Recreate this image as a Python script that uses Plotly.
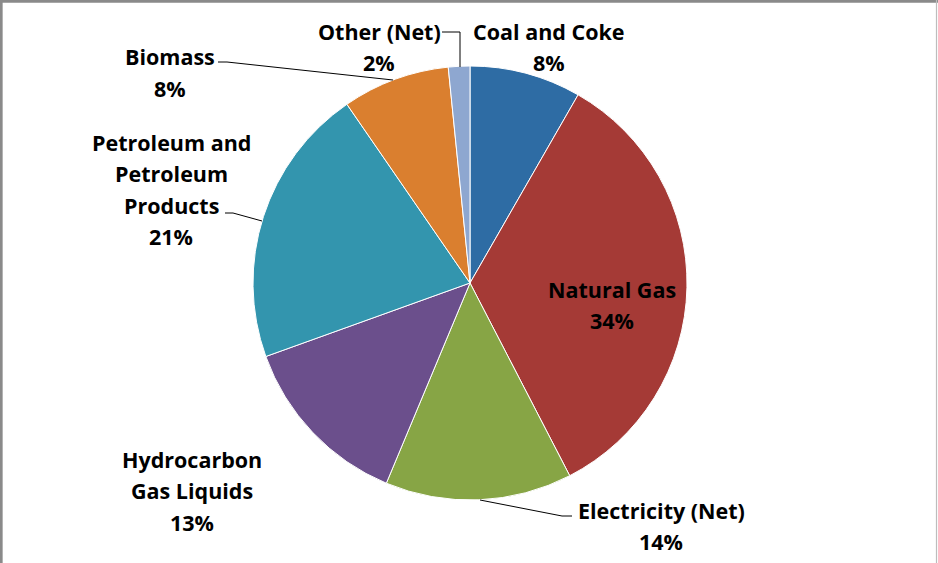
import plotly.graph_objects as go

W, H = 938, 563

# ---- data ----
labels = ["Coal and Coke", "Natural Gas", "Electricity (Net)", "Hydrocarbon Gas Liquids",
          "Petroleum and Petroleum Products", "Biomass", "Other (Net)"]
values = [8.3, 34.1, 13.9, 13.2, 20.9, 8.0, 1.6]
label_lines = [["Coal and Coke"], ["Natural Gas"], ["Electricity (Net)"],
               ["Hydrocarbon", "Gas Liquids"], ["Petroleum and", "Petroleum", "Products"],
               ["Biomass"], ["Other (Net)"]]
colors = ["#2E6CA4", "#A53A36", "#87A545", "#6B4F8C", "#3395AE", "#DA7F2F", "#8EA7D0"]

# ---- layout helpers (pixel positions of label block centers: first line) ----
label_pos = [(549, 31), (612, 289), (661, 510), (192, 459), (171, 142), (170, 57), (379, 31)]
line_gap = 31.5
leaders = [
    None, None,
    [(480, 500), (562, 516), (572, 516)],
    None,
    [(225, 213), (233, 213), (262, 221)],
    [(218, 62), (227, 62), (393, 80)],
    [(442, 32), (460, 32), (460, 67)],
]

def px(x):
    return x / W

def py(y):
    return 1 - y / H

fig = go.Figure(go.Pie(
    labels=labels, values=values, sort=False, direction="clockwise", rotation=0,
    marker=dict(colors=colors, line=dict(color="white", width=1)),
    textinfo="none", hoverinfo="label+percent", showlegend=False,
    domain=dict(x=[px(253), px(687)], y=[py(500), py(66)]),
))

total = sum(values)
annotations = []
for lines, v, (cx, cy) in zip(label_lines, values, label_pos):
    all_lines = lines + [f"{round(v / total * 100)}%"]
    for i, t in enumerate(all_lines):
        annotations.append(dict(
            x=px(cx), y=py(cy + i * line_gap), xref="paper", yref="paper",
            text=t, showarrow=False, xanchor="center", yanchor="middle",
            font=dict(family="Open Sans", size=21.5, color="#000000", weight="bold"),
        ))

shapes = []
for ld in leaders:
    if ld is None:
        continue
    path = "M " + " L ".join(f"{px(x)},{py(y)}" for x, y in ld)
    shapes.append(dict(type="path", path=path, xref="paper", yref="paper",
                       line=dict(color="#000000", width=1)))

# chart border
shapes += [
    dict(type="line", xref="paper", yref="paper", x0=0, x1=1, y0=py(1.3), y1=py(1.3),
         line=dict(color="#8A8A8A", width=2.7)),
    dict(type="line", xref="paper", yref="paper", x0=px(1.3), x1=px(1.3), y0=0, y1=1,
         line=dict(color="#8A8A8A", width=2.7)),
    dict(type="line", xref="paper", yref="paper", x0=px(936.5), x1=px(936.5), y0=0, y1=1,
         line=dict(color="#BDBDBD", width=1.2)),
]

fig.update_layout(
    width=W, height=H, margin=dict(l=0, r=0, t=0, b=0),
    paper_bgcolor="white", plot_bgcolor="white",
    annotations=annotations, shapes=shapes,
)

fig.write_html("out.html")
